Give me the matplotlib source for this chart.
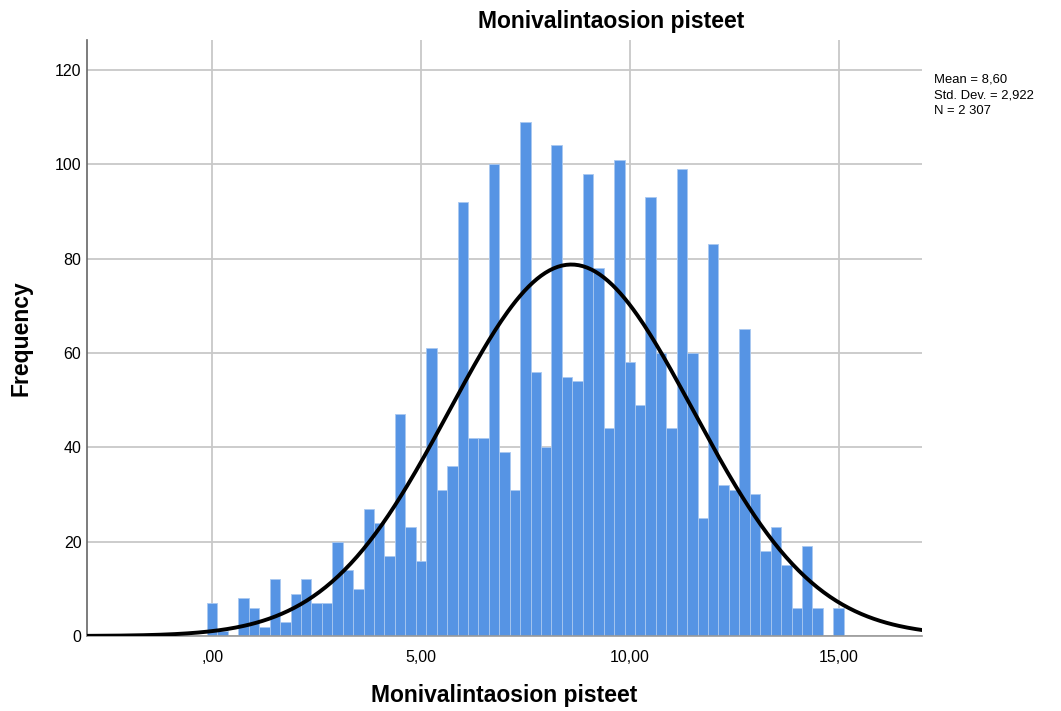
import numpy as np
import matplotlib
matplotlib.use("Agg")
import matplotlib.pyplot as plt

plt.rcParams['font.family'] = ['Liberation Sans', 'DejaVu Sans']

# bin centres (score) and counts
scores = [0.0, 0.25, 0.5, 0.75, 1.0, 1.25, 1.5, 1.75, 2.0, 2.25, 2.5, 2.75,
          3.0, 3.25, 3.5, 3.75, 4.0, 4.25, 4.5, 4.75, 5.0, 5.25, 5.5, 5.75,
          6.0, 6.25, 6.5, 6.75, 7.0, 7.25, 7.5, 7.75, 8.0, 8.25, 8.5, 8.75,
          9.0, 9.25, 9.5, 9.75, 10.0, 10.25, 10.5, 10.75, 11.0, 11.25, 11.5, 11.75,
          12.0, 12.25, 12.5, 12.75, 13.0, 13.25, 13.5, 13.75, 14.0, 14.25, 14.5, 14.75,
          15.0]
counts = [7, 1, 0, 8, 6, 2, 12, 3, 9, 12, 7, 7,
          20, 14, 10, 27, 24, 17, 47, 23, 16, 61, 31, 36,
          92, 42, 42, 100, 39, 31, 109, 56, 40, 104, 55, 54,
          98, 78, 44, 101, 58, 49, 93, 60, 44, 99, 60, 25,
          83, 32, 31, 65, 30, 18, 23, 15, 6, 19, 6, 0,
          6]

mean = 8.60
sd = 2.922
n = 2307
bin_w = 0.25

x_ticks = [0, 5, 10, 15]
x_labels = [",00", "5,00", "10,00", "15,00"]
y_ticks = [0, 20, 40, 60, 80, 100, 120]

fig = plt.figure(figsize=(10.61, 7.11), dpi=100)
ax = fig.add_axes([0.082, 0.1055, 0.787, 0.838])

ax.grid(True, color="#c8c8c8", linewidth=1.3)
ax.set_axisbelow(True)

ax.bar(scores, counts, width=bin_w, color="#5694e4", edgecolor="#a9c8f0",
       linewidth=0.6, zorder=2)

# normal curve scaled to counts per bin
xs = np.linspace(-3.0, 17.0, 400)
pdf = n * bin_w / (sd * np.sqrt(2 * np.pi)) * np.exp(-0.5 * ((xs - mean) / sd) ** 2)
ax.plot(xs, pdf, color="black", linewidth=2.8, zorder=3)

ax.set_xlim(-3.0, 17.0)
ax.set_ylim(0, 126.3)
ax.set_xticks(x_ticks)
ax.set_xticklabels(x_labels)
ax.set_yticks(y_ticks)
ax.tick_params(length=0, labelsize=11.5, colors="black")
ax.tick_params(axis='y', pad=4)
ax.tick_params(axis='x', pad=10)

ax.spines['top'].set_visible(False)
ax.spines['right'].set_visible(False)
ax.spines['left'].set_color("#666666")
ax.spines['bottom'].set_color("#999999")
ax.spines['left'].set_linewidth(1.2)
ax.spines['bottom'].set_linewidth(1.2)

ax.set_xlabel("Monivalintaosion pisteet", fontsize=16.5, fontweight="bold", labelpad=14)
ax.set_ylabel("Frequency", fontsize=16.5, fontweight="bold", labelpad=16)

fig.text(0.576, 0.970, "Monivalintaosion pisteet", fontsize=16.5, fontweight="bold",
         ha="center", va="center")
fig.text(0.880, 0.897, "Mean = 8,60\nStd. Dev. = 2,922\nN = 2 307", fontsize=9.4,
         ha="left", va="top", linespacing=1.45)

fig.savefig("out.png", dpi=100)
